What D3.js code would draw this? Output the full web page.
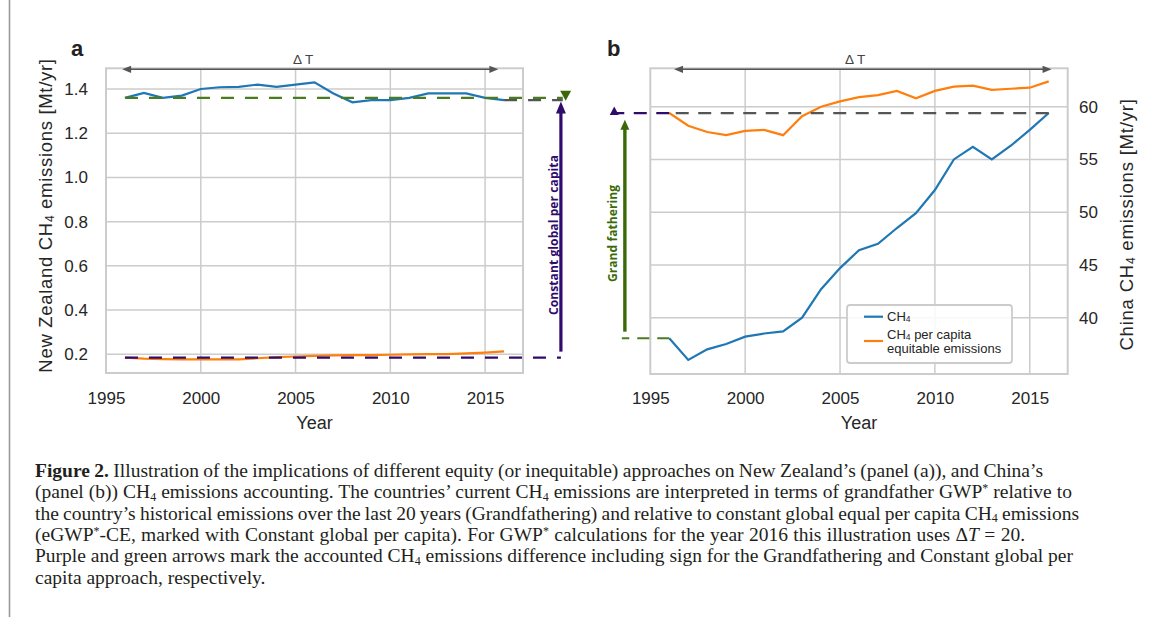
<!DOCTYPE html>
<html><head><meta charset="utf-8">
<script src="https://cdn.jsdelivr.net/npm/d3@7"></script>
<style>body{margin:0;background:#fff}</style>
</head><body>
<svg id="c" width="1153" height="617"></svg>
<script>
// ---------------- data ----------------
const years = [1996,1997,1998,1999,2000,2001,2002,2003,2004,2005,2006,2007,2008,2009,2010,2011,2012,2013,2014,2015,2016];
const nzCH4 = [1.36,1.382,1.36,1.37,1.40,1.408,1.41,1.42,1.41,1.42,1.43,1.38,1.34,1.35,1.35,1.36,1.38,1.38,1.38,1.36,1.35];
const nzPerCapita = [0.185,0.180,0.178,0.177,0.177,0.177,0.177,0.182,0.187,0.190,0.193,0.195,0.196,0.196,0.198,0.200,0.201,0.201,0.204,0.208,0.213];
const chinaCH4 = [38.05,36.0,37.0,37.5,38.2,38.5,38.7,40.0,42.7,44.7,46.4,47.0,48.5,49.9,52.1,55.0,56.2,55.0,56.3,57.8,59.4];
const chinaPerCapita = [59.4,58.2,57.6,57.3,57.7,57.8,57.3,59.1,60.0,60.5,60.9,61.1,61.5,60.8,61.5,61.9,62.0,61.6,61.7,61.8,62.4];
const xTicks = [1995,2000,2005,2010,2015];
const nzTicks = [0.2,0.4,0.6,0.8,1.0,1.2,1.4];
const chinaTicks = [40,45,50,55,60];
const legendLabels = [["CH","4",""],["CH","4"," per capita"],["equitable emissions"]];

// ---------------- setup ----------------
const svg = d3.select("#c");
const SANS = "'Liberation Sans', Arial, Helvetica, sans-serif";
const SERIF = "'Liberation Serif', 'Times New Roman', serif";
const TXT = "#262626";
const GRID = "#cccccc";
const BLUE = "#1f77b4", ORANGE = "#ff7f0e";
const PURPLE = "#2f0b6b", GREEN_D = "#4a7c1f", GREEN_A = "#3a6a08", GRAY = "#555555";

svg.append("rect").attr("width",1153).attr("height",617).attr("fill","#fff");
svg.append("line").attr("x1",9.5).attr("x2",9.5).attr("y1",0).attr("y2",617)
  .attr("stroke","#9a9a9a").attr("stroke-width",1.6);

const xA = d3.scaleLinear().domain([1995,2017]).range([106,523]);
const yA = d3.scaleLinear().domain([0.1154,1.4936]).range([373,68.3]);
const xB = d3.scaleLinear().domain([1995,2017]).range([650.3,1067.7]);
const yB = d3.scaleLinear().domain([34.66,63.64]).range([374,68.3]);

function fitLetters(sel, target){
  const w = sel.node().getComputedTextLength();
  const n = sel.text().length;
  sel.style("letter-spacing", ((target - w)/n) + "px");
}

function panelFrame(g, x, y, xt, yt){
  const [x0,x1] = x.range(), [y0,y1] = y.range();
  g.append("g").selectAll("line").data(xt.filter(t=>t>x.domain()[0])).join("line")
    .attr("x1",d=>x(d)).attr("x2",d=>x(d)).attr("y1",y1).attr("y2",y0)
    .attr("stroke",GRID).attr("stroke-width",1.5);
  g.append("g").selectAll("line").data(yt).join("line")
    .attr("x1",x0).attr("x2",x1).attr("y1",d=>y(d)).attr("y2",d=>y(d))
    .attr("stroke",GRID).attr("stroke-width",1.5);
  g.append("rect").attr("x",x0).attr("y",y1).attr("width",x1-x0).attr("height",y0-y1)
    .attr("fill","none").attr("stroke",GRID).attr("stroke-width",2);
}

function styleAxis(ax){
  ax.select(".domain").remove();
  ax.selectAll("line").remove();
  ax.selectAll("text").attr("fill",TXT).style("font-family",SANS).style("font-size","17px");
}

function hLine(g, xa, xb, yv, color, dash){
  g.append("line").attr("x1",xa).attr("x2",xb).attr("y1",yv).attr("y2",yv)
    .attr("stroke",color).attr("stroke-width",2.2).attr("stroke-dasharray",dash);
}

// vertical arrow: tail pixel (or null for head only), tip pixel, direction (-1 up, +1 down)
function vArrow(g, x, yTail, yTip, dir, color, shaftW, headL, headW){
  if (yTail !== null) {
    g.append("line").attr("x1",x).attr("x2",x).attr("y1",yTail).attr("y2",yTip - dir*headL*0.8)
      .attr("stroke",color).attr("stroke-width",shaftW);
  }
  const b = yTip - dir*headL;
  g.append("path").attr("d",`M${x},${yTip}L${x-headW/2},${b}L${x+headW/2},${b}Z`).attr("fill",color);
}

function hArrow2(g, xa, xb, yv){
  g.append("line").attr("x1",xa+6).attr("x2",xb-6).attr("y1",yv).attr("y2",yv)
    .attr("stroke",GRAY).attr("stroke-width",1.6);
  g.append("path").attr("d",`M${xa},${yv}L${xa+9},${yv-3.6}L${xa+9},${yv+3.6}Z`).attr("fill",GRAY);
  g.append("path").attr("d",`M${xb},${yv}L${xb-9},${yv-3.6}L${xb-9},${yv+3.6}Z`).attr("fill",GRAY);
}

const line = (x,y)=>d3.line().x((d,i)=>x(years[i])).y(d=>y(d));

// ---------------- panel a ----------------
const gA = svg.append("g");
panelFrame(gA, xA, yA, xTicks, nzTicks);
styleAxis(gA.append("g").attr("transform","translate(0,373)")
  .call(d3.axisBottom(xA).tickValues(xTicks).tickFormat(d3.format("d")).tickSize(0).tickPadding(19)));
styleAxis(gA.append("g").attr("transform","translate(106,0)")
  .call(d3.axisLeft(yA).tickValues(nzTicks).tickFormat(d3.format(".1f")).tickSize(0).tickPadding(18)));

gA.append("path").datum(nzCH4).attr("d",line(xA,yA)).attr("fill","none").attr("stroke",BLUE).attr("stroke-width",2.2);
gA.append("path").datum(nzPerCapita).attr("d",line(xA,yA)).attr("fill","none").attr("stroke",ORANGE).attr("stroke-width",2.2);

hLine(gA, xA(1996), xA(2019.1), yA(nzCH4[0]), GREEN_D, "13,11");
hLine(gA, xA(2016), xA(2019.1), yA(nzCH4[20]), GRAY, "13,11");
hLine(gA, xA(1996), xA(2019), yA(nzPerCapita[0]), PURPLE, "13,11");

vArrow(gA, xA(2019), yA(nzPerCapita[0]) - 6, yA(nzCH4[20]) + 1.4, -1, PURPLE, 3.2, 12, 10);
vArrow(gA, xA(2019.25), null, yA(nzCH4[20]) + 0.7, 1, GREEN_A, 3, 10, 11);

hArrow2(gA, xA(1995.85), xA(2015.7), 69.3);
gA.append("text").attr("x",xA(2005.4)).attr("y",64).attr("text-anchor","middle")
  .style("font-family",SANS).style("font-size","13.5px").attr("fill","#444").text("Δ T");

gA.append("text").attr("x",71).attr("y",56).style("font-family",SANS).style("font-size","22px")
  .style("font-weight","bold").attr("fill","#222").text("a");

{
  const t = gA.append("text").attr("transform","translate(52,215.5) rotate(-90)").attr("text-anchor","middle")
    .style("font-family",SANS).style("font-size","18.5px").attr("fill",TXT);
  t.append("tspan").text("New Zealand CH");
  t.append("tspan").attr("dy",2).style("font-size","12px").text("4");
  t.append("tspan").attr("dy",-2).text("  emissions [Mt/yr]");
  fitLetters(t, 315);
}
{
  const t = gA.append("text").attr("transform","translate(558,235) rotate(-90)").attr("text-anchor","middle")
    .style("font-family","'Open Sans', sans-serif").style("font-size","12px").style("font-weight","bold")
    .attr("fill",PURPLE).text("Constant global per capita");
  fitLetters(t, 160);
}
gA.append("text").attr("x",(xA.range()[0]+xA.range()[1])/2).attr("y",429).attr("text-anchor","middle")
  .style("font-family",SANS).style("font-size","18px").attr("fill",TXT).text("Year");

// ---------------- panel b ----------------
const gB = svg.append("g");
panelFrame(gB, xB, yB, xTicks, chinaTicks);
styleAxis(gB.append("g").attr("transform","translate(0,374)")
  .call(d3.axisBottom(xB).tickValues(xTicks).tickFormat(d3.format("d")).tickSize(0).tickPadding(18)));
styleAxis(gB.append("g").attr("transform","translate(1067.7,0)")
  .call(d3.axisRight(yB).tickValues(chinaTicks).tickFormat(d3.format("d")).tickSize(0).tickPadding(11.3)));

gB.append("path").datum(chinaCH4).attr("d",line(xB,yB)).attr("fill","none").attr("stroke",BLUE).attr("stroke-width",2.2);
gB.append("path").datum(chinaPerCapita).attr("d",line(xB,yB)).attr("fill","none").attr("stroke",ORANGE).attr("stroke-width",2.2);

hLine(gB, xB(2016), xB(1996), yB(chinaCH4[20]), GRAY, "13,9.5");
hLine(gB, xB(1996), xB(1993.1), yB(chinaPerCapita[0]), PURPLE, "13,9.5");
hLine(gB, xB(1996), xB(1993.5), yB(chinaCH4[0]), GREEN_D, "12,8");

vArrow(gB, xB(1993.66), yB(chinaCH4[0]) - 6.6, yB(chinaCH4[20]) + 6.7, -1, GREEN_A, 3.4, 10, 9);
vArrow(gB, xB(1993.1), null, yB(chinaPerCapita[0]) - 6.6, -1, PURPLE, 3, 8.5, 9);

hArrow2(gB, xB(1996.25), xB(2016.15), 69.3);
gB.append("text").attr("x",xB(2005.8)).attr("y",64).attr("text-anchor","middle")
  .style("font-family",SANS).style("font-size","13.5px").attr("fill","#444").text("Δ T");

gB.append("text").attr("x",607).attr("y",56).style("font-family",SANS).style("font-size","22px")
  .style("font-weight","bold").attr("fill","#222").text("b");

{
  const t = gB.append("text").attr("transform","translate(1133,224.5) rotate(-90)").attr("text-anchor","middle")
    .style("font-family",SANS).style("font-size","18.5px").attr("fill",TXT);
  t.append("tspan").text("China CH");
  t.append("tspan").attr("dy",2).style("font-size","12px").text("4");
  t.append("tspan").attr("dy",-2).text("  emissions [Mt/yr]");
  fitLetters(t, 253);
}
{
  const t = gB.append("text").attr("transform","translate(616.5,233.5) rotate(-90)").attr("text-anchor","middle")
    .style("font-family","'Open Sans', sans-serif").style("font-size","12px").style("font-weight","bold")
    .attr("fill",GREEN_A).text("Grand fathering");
  fitLetters(t, 97);
}
gB.append("text").attr("x",(xB.range()[0]+xB.range()[1])/2).attr("y",429).attr("text-anchor","middle")
  .style("font-family",SANS).style("font-size","18px").attr("fill",TXT).text("Year");

// legend
{
  const lg = gB.append("g");
  lg.append("rect").attr("x",847).attr("y",305).attr("width",165).attr("height",58).attr("rx",3)
    .attr("fill","#fff").attr("fill-opacity",0.85).attr("stroke","#cccccc").attr("stroke-width",1.8);
  lg.append("line").attr("x1",864).attr("x2",883).attr("y1",316.7).attr("y2",316.7).attr("stroke",BLUE).attr("stroke-width",2.2);
  lg.append("line").attr("x1",864).attr("x2",883).attr("y1",341).attr("y2",341).attr("stroke",ORANGE).attr("stroke-width",2.2);
  const rows = [321, 339, 352.7];
  legendLabels.forEach((parts,i)=>{
    const t = lg.append("text").attr("x",887).attr("y",rows[i]).style("font-family",SANS)
      .style("font-size","13px").attr("fill",TXT);
    t.append("tspan").text(parts[0]);
    if (parts.length > 1) {
      t.append("tspan").attr("dy",0.5).style("font-size","8.5px").text(parts[1]);
      t.append("tspan").attr("dy",-0.5).text(parts[2]);
    }
  });
}

// ---------------- caption ----------------
const captionLines = [
 [{t:"Figure 2.", b:1},{t:" Illustration of the implications of different equity (or inequitable) approaches on New Zealand’s (panel (a)), and China’s"}],
 [{t:"(panel (b)) CH"},{t:"4",sub:1},{t:" emissions accounting. The countries’ current CH"},{t:"4",sub:1},{t:" emissions are interpreted in terms of grandfather GWP"},{t:"*",sup:1},{t:" relative to"}],
 [{t:"the country’s historical emissions over the last 20 years (Grandfathering) and relative to constant global equal per capita CH"},{t:"4",sub:1},{t:" emissions"}],
 [{t:"(eGWP"},{t:"*",sup:1},{t:"-CE, marked with Constant global per capita). For GWP"},{t:"*",sup:1},{t:" calculations for the year 2016 this illustration uses "},{t:"Δ"},{t:"T",i:1},{t:" = 20."}],
 [{t:"Purple and green arrows mark the accounted CH"},{t:"4",sub:1},{t:" emissions difference including sign for the Grandfathering and Constant global per"}],
 [{t:"capita approach, respectively."}]
];
const captionEnds = [1043,1072,1079,1025,1073,null];
captionLines.forEach((segs,i)=>{
  const t = svg.append("text").attr("x",35).attr("y",477 + i*21.3)
    .style("font-family",SERIF).style("font-size","19.5px").attr("fill","#231f20");
  let shift = 0;
  segs.forEach(s=>{
    const want = s.sub ? 2.5 : (s.sup ? -6 : 0);
    const ts = t.append("tspan").text(s.t);
    if (want !== shift) ts.attr("dy", want - shift);
    shift = want;
    if (s.sub || s.sup) ts.style("font-size","12px");
    if (s.b) ts.style("font-weight","bold");
    if (s.i) ts.style("font-style","italic");
  });
  if (captionEnds[i]) {
    const w = t.node().getComputedTextLength();
    const n = (t.text().match(/ /g) || []).length;
    t.style("word-spacing", ((captionEnds[i] - 35 - w)/n) + "px");
  }
});
</script>
</body></html>
